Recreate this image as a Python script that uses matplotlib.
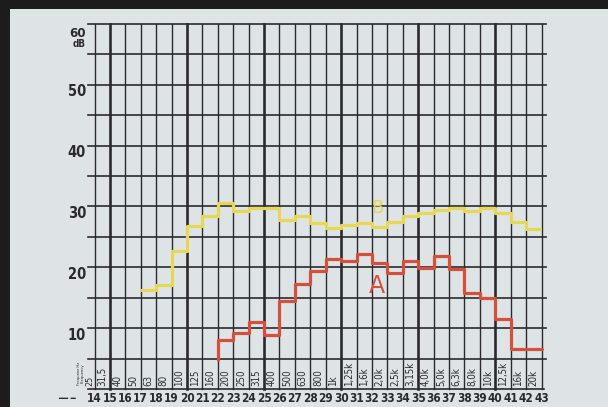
import matplotlib
matplotlib.use('Agg')
import matplotlib.pyplot as plt
import numpy as np
from matplotlib import font_manager

# one-third octave band numbers and their mid frequencies
band_numbers = list(range(14, 44))
freq_labels = ['25', '31,5', '40', '50', '63', '80', '100', '125', '160', '200',
               '250', '315', '400', '500', '630', '800', '1k', '1,25k', '1,6k',
               '2,0k', '2,5k', '3,15k', '4,0k', '5,0k', '6,3k', '8,0k', '10k',
               '12,5k', '16k', '20k']
db_ticks = [10, 20, 30, 40, 50, 60]

# curve A (red), level per band (band n covers column n-1 .. n)
bands_a = list(range(23, 44))
level_a = [8.0, 9.2, 11.0, 8.8, 14.5, 17.3, 19.4, 21.3, 21.1, 22.2, 20.7,
           19.1, 21.1, 19.9, 21.9, 19.7, 15.8, 15.0, 11.5, 6.5, 6.5]
floor_a = 4.8

# curve B (yellow)
bands_b = list(range(18, 44))
level_b = [16.3, 17.1, 22.7, 26.8, 28.5, 30.5, 29.3, 29.8, 29.8, 27.7, 28.5,
           27.3, 26.5, 27.0, 27.3, 26.6, 27.4, 28.5, 28.9, 29.4, 29.8, 29.2,
           29.7, 29.0, 27.5, 26.3]

installed = {f.name for f in font_manager.fontManager.ttflist}
if 'Liberation Sans Narrow' in installed:
    narrow = dict(family='Liberation Sans Narrow')
else:
    narrow = dict(family='DejaVu Sans', stretch='condensed')

ink = '#2a2a2e'
red = '#d5503c'
yellow = '#e8d655'

fig = plt.figure(figsize=(6.08, 4.07), dpi=100, facecolor='#1c1c1c')
paper = fig.add_axes([10 / 608, 0, 1 - 10 / 608, (407 - 9) / 407])
paper.set_facecolor('#dee4e6')
paper.set_xticks([])
paper.set_yticks([])
for s in paper.spines.values():
    s.set_visible(False)

ax = fig.add_axes([94.5 / 608, (407 - 358.5) / 407, 447 / 608, 334.5 / 407])
ax.set_xlim(14, 43)
ax.set_ylim(5, 60)
ax.axis('off')

# grid
for b in band_numbers:
    lw = 1.9 if b % 5 == 0 else 1.0
    ax.plot([b, b], [0, 60], color=ink, lw=lw, clip_on=False, zorder=1)
for v in range(5, 61, 5):
    ax.plot([13.58, 43.29], [v, v], color=ink, lw=1.2, clip_on=False, zorder=1)
ax.plot([13.55, 43.15], [0, 0], color=ink, lw=1.2, clip_on=False, zorder=1)

# level labels
for v in db_ticks[:-1]:
    ax.text(13.45, v - 1.9, str(v), ha='right', va='baseline', fontsize=10.5,
            fontweight='bold', color=ink, **narrow)
ax.text(13.45, 57.9, '60', ha='right', va='baseline', fontsize=9.5,
        fontweight='bold', color=ink, **narrow)
ax.text(13.45, 56.3, 'dB', ha='right', va='baseline', fontsize=7,
        fontweight='bold', color=ink, **narrow)

# frequency row
for b, lab in zip(band_numbers, freq_labels):
    if b == 14:
        ax.text(b - 0.3, 0.45, lab, rotation=90, ha='center', va='bottom',
                fontsize=6.5, color=ink, **narrow)
    else:
        ax.text(b - 0.5, 0.45, lab, rotation=90, ha='center', va='bottom',
                fontsize=7, color=ink, **narrow)
ax.text(13.1, 0.6, 'Frequenz Hz\nFrequency', rotation=90, ha='center',
        va='bottom', fontsize=3, color=ink, linespacing=1.0, **narrow)

# band numbers
for b in band_numbers:
    ax.text(b, -1.5, str(b), ha='center', va='center', fontsize=8.5,
            fontweight='bold', color=ink, **narrow)
ax.text(12.8, -1.55, '\u2501\u2501 \u2501', ha='right', va='center',
        fontsize=6, color=ink)

# curves
edges_a = [b - 1 for b in bands_a] + [bands_a[-1]]
ax.step([edges_a[0]] + edges_a, [floor_a] + level_a + [level_a[-1]], where='post',
        color=red, lw=2.3, solid_joinstyle='round', solid_capstyle='round',
        clip_on=False, zorder=3)
edges_b = [b - 1 for b in bands_b] + [bands_b[-1]]
ax.step(edges_b, level_b + [level_b[-1]], where='post', color=yellow, lw=2.3,
        solid_joinstyle='round', solid_capstyle='round', zorder=3)

ax.text(32.33, 16.9, 'A', color=red, fontsize=17, ha='center', va='center')
ax.text(32.37, 29.75, 'B', color=yellow, fontsize=13, ha='center', va='center')

fig.savefig('out.png', dpi=100, facecolor=fig.get_facecolor())
